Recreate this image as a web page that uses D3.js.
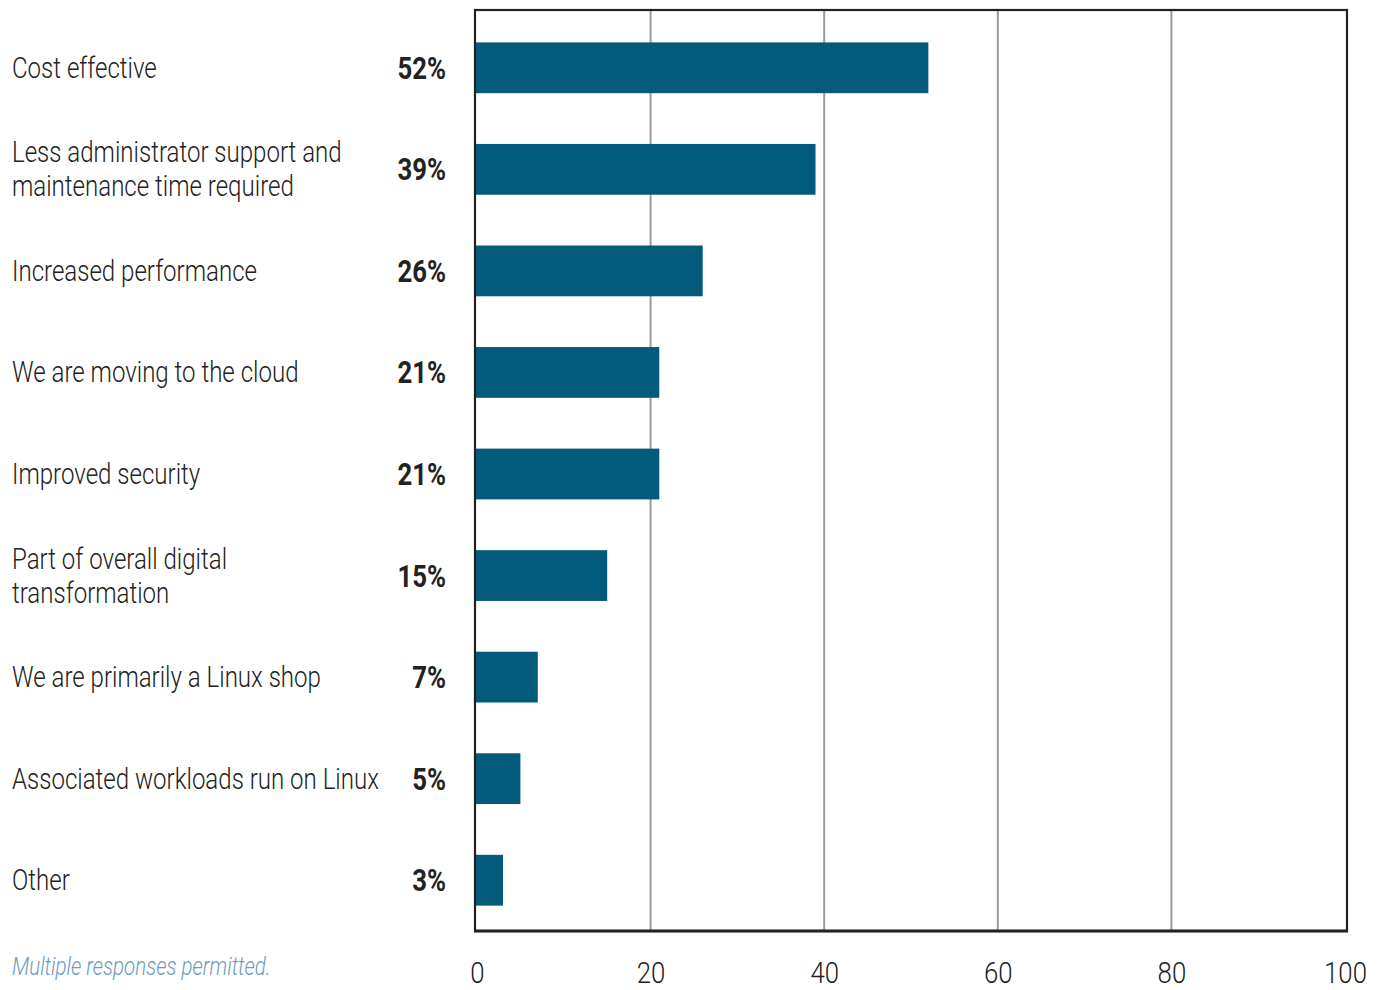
<!DOCTYPE html>
<html>
<head>
<meta charset="utf-8">
<script src="https://cdn.jsdelivr.net/npm/d3@7"></script>
<style>
  html, body { margin: 0; padding: 0; background: #fff; }
  svg { display: block; }
  text { font-family: Roboto, "Liberation Sans", sans-serif; }
</style>
</head>
<body>
<svg id="chart" width="1387" height="990"></svg>
<script>
// Reasons for choosing Linux (share of respondents, %)
const categories = [
  ["Cost effective"],
  ["Less administrator support and", "maintenance time required"],
  ["Increased performance"],
  ["We are moving to the cloud"],
  ["Improved security"],
  ["Part of overall digital", "transformation"],
  ["We are primarily a Linux shop"],
  ["Associated workloads run on Linux"],
  ["Other"]
];
const values = [52, 39, 26, 21, 21, 15, 7, 5, 3];
const xTicks = [0, 20, 40, 60, 80, 100];
const footnote = "Multiple responses permitted.";

const svg = d3.select("#chart");
const frame = { left: 475, right: 1347, top: 10, bottom: 931 };

const x = d3.scaleLinear().domain([0, 100]).range([477, 1345]);
const keys = categories.map((c, i) => i);
const y = d3.scaleBand().domain(keys).range([17, 931])
  .paddingInner(0.5).paddingOuter(0.25);

// condensed text helper: horizontally squeezed text
function ctext(g, tx, ty, str, opts = {}) {
  return g.append("g")
    .attr("transform", `translate(${tx},${ty}) scale(${opts.sx || 0.82},1)`)
    .append("text")
    .attr("x", 0).attr("y", 0)
    .attr("font-size", opts.size || 29)
    .attr("font-weight", opts.weight || 300)
    .attr("font-style", opts.style || "normal")
    .attr("fill", opts.fill || "#222")
    .attr("text-anchor", opts.anchor || "start")
    .text(str);
}

// vertical gridlines
svg.append("g").selectAll("line")
  .data(xTicks.filter(d => d > 0 && d < 100))
  .join("line")
  .attr("x1", d => x(d)).attr("x2", d => x(d))
  .attr("y1", frame.top).attr("y2", frame.bottom)
  .attr("stroke", "#9a9a9a").attr("stroke-width", 2);

// bars
svg.append("g").selectAll("rect")
  .data(values)
  .join("rect")
  .attr("x", x(0) - 1)
  .attr("y", (d, i) => y(i))
  .attr("width", d => x(d) - x(0) + 1)
  .attr("height", y.bandwidth())
  .attr("fill", "#035a7b");

// frame
svg.append("rect")
  .attr("x", frame.left).attr("y", frame.top)
  .attr("width", frame.right - frame.left)
  .attr("height", frame.bottom - frame.top)
  .attr("fill", "none").attr("stroke", "#222").attr("stroke-width", 2.2);
svg.append("line")
  .attr("x1", frame.left - 1).attr("x2", frame.right + 1)
  .attr("y1", frame.bottom).attr("y2", frame.bottom)
  .attr("stroke", "#222").attr("stroke-width", 3);

// category labels
const labels = svg.append("g");
categories.forEach((lines, i) => {
  const cy = y(i) + y.bandwidth() / 2;
  const lh = 34;
  lines.forEach((ln, j) => {
    const off = (j - (lines.length - 1) / 2) * lh;
    ctext(labels, 12, cy + off + 10, ln, { size: 29, sx: 0.83 });
  });
});

// value labels
const vlab = svg.append("g");
values.forEach((v, i) => {
  const cy = y(i) + y.bandwidth() / 2;
  ctext(vlab, 446, cy + 11, v + "%", { size: 31, weight: 700, anchor: "end", sx: 0.83 });
});

// x-axis tick labels
const axis = d3.axisBottom(x).tickValues(xTicks).tickSize(0).tickPadding(0);
const ax = svg.append("g").attr("transform", `translate(0,${frame.bottom})`).call(axis);
ax.select(".domain").remove();
ax.selectAll(".tick text").remove();
ax.selectAll(".tick").each(function (d) {
  ctext(d3.select(this), 0, 52, String(d), { size: 30, anchor: "middle", sx: 0.86 });
});

// footnote
ctext(svg, 12, 975, footnote, { size: 25, style: "italic", fill: "#6b9bbb", sx: 0.82 });
</script>
</body>
</html>
